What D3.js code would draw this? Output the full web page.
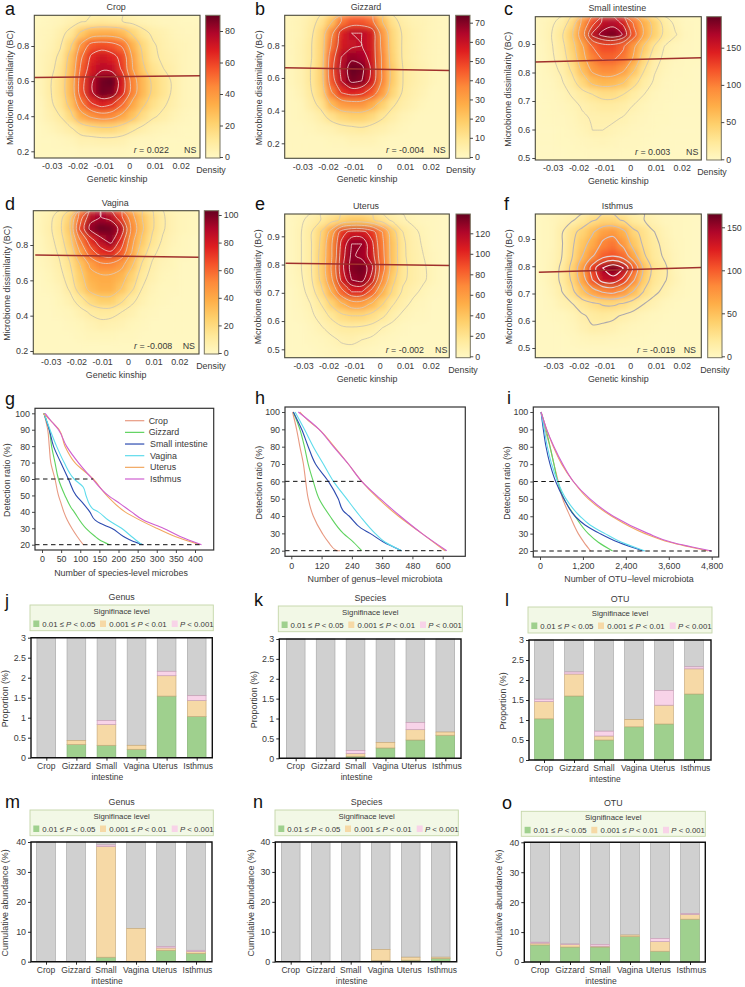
<!DOCTYPE html>
<html><head><meta charset="utf-8">
<script src="https://cdn.jsdelivr.net/npm/d3@7"></script>
<style>
html,body{margin:0;padding:0;background:#fff}
svg{display:block}
text{font-family:"Liberation Sans",Arial,sans-serif;fill:#3a3a3a}
</style></head><body>
<svg id="c" width="745" height="987"></svg>
<script>
// ---------- DATA ----------
const tissues = ["Crop","Gizzard","Small intestine","Vagina","Uterus","Isthmus"];
const tissueLabels = [["Crop"],["Gizzard"],["Small","intestine"],["Vagina"],["Uterus"],["Isthmus"]];
const kinshipTicks = [-0.03,-0.02,-0.01,0,0.01,0.02];
const detectionTicks = [100,90,80,70,60,50,40,30,20];

const densityCrop = [
[1,2,3,5,8,10,11,10,9,6,4,3,2,2,1,1],
[2,3,6,12,24,32,34,34,30,20,12,7,5,3,2,2],
[2,4,8,20,42,56,58,56,50,32,18,10,6,4,3,2],
[3,5,11,26,50,66,72,68,60,38,21,11,7,5,3,2],
[3,6,13,28,54,70,76,74,62,40,24,14,9,6,3,2],
[3,8,15,30,58,76,88,90,70,46,30,19,13,7,3,2],
[3,8,15,30,58,76,88,86,68,46,30,19,13,7,3,2],
[2,7,13,26,48,62,68,64,52,36,24,15,10,6,3,2],
[2,5,9,18,34,42,46,44,36,26,16,10,7,4,2,1],
[1,3,5,8,14,18,20,20,16,11,7,4,3,2,1,1],
[1,1,2,3,5,5,6,6,5,3,2,2,1,1,1,1],
[1,1,1,1,2,2,2,2,2,1,1,1,1,1,1,1]];
const densityGizzard = [
[2,3,6,11,22,40,46,46,42,24,12,6,4,3,2,1],
[2,3,7,15,36,56,62,62,58,34,15,8,5,3,2,1],
[2,4,8,16,40,58,60,62,58,36,16,8,5,3,2,1],
[2,4,8,16,46,62,68,66,58,38,17,8,5,3,2,1],
[2,4,9,17,48,64,74,72,60,38,19,9,6,4,2,1],
[2,4,9,17,46,62,72,70,58,38,19,9,6,4,2,1],
[1,3,8,15,38,52,56,54,46,32,16,8,5,3,1,1],
[1,2,6,11,24,32,34,34,28,18,10,6,4,2,1,1],
[1,2,3,6,12,16,18,18,15,10,6,3,2,1,1,1],
[1,1,2,3,4,6,7,8,6,5,3,2,1,1,1,1],
[1,1,1,1,2,2,3,3,3,2,1,1,1,1,1,1],
[1,1,1,1,1,1,1,1,1,1,1,1,1,1,1,1]];
const densitySmall = [
[4,8,16,36,85,125,160,165,150,105,70,45,18,8,3,2],
[4,10,24,50,95,160,178,185,170,120,75,45,22,12,4,2],
[3,9,20,44,76,110,124,124,112,84,52,26,10,5,3,2],
[3,8,17,38,70,98,112,112,104,76,40,16,8,4,2,2],
[2,6,13,30,58,84,94,94,82,56,28,12,6,3,2,1],
[2,4,9,20,40,60,66,64,56,34,18,9,4,2,2,1],
[1,3,6,12,20,28,34,34,28,18,11,5,3,2,1,1],
[1,2,4,7,12,16,19,19,16,10,6,3,2,1,1,1],
[1,2,3,5,9,12,13,13,10,6,4,2,2,1,1,1],
[1,1,2,4,7,11,11,8,6,4,3,2,1,1,1,1],
[1,1,2,2,4,5,6,5,3,3,2,1,1,1,1,1],
[1,1,1,2,2,3,3,3,2,2,1,1,1,1,1,1]];
const densityVagina = [
[3,6,13,24,60,88,92,88,70,46,30,18,10,5,3,2],
[3,7,14,28,70,95,102,100,88,52,32,18,10,5,3,2],
[2,6,12,24,54,74,88,96,76,46,28,15,8,4,2,1],
[2,5,10,20,42,62,74,78,64,42,22,11,6,3,2,1],
[2,4,8,16,30,44,52,52,46,32,16,8,4,3,1,1],
[1,3,6,13,26,38,40,40,36,24,12,6,3,2,1,1],
[1,2,4,10,22,34,38,38,30,19,9,4,2,2,1,1],
[1,1,3,6,13,21,26,26,19,11,6,3,2,1,1,1],
[1,1,2,3,6,10,12,12,9,6,3,2,1,1,1,1],
[1,1,1,2,3,5,7,6,5,3,2,1,1,1,1,1],
[1,1,1,1,2,3,3,3,2,2,1,1,1,1,1,1],
[1,1,1,1,1,1,1,1,1,1,1,1,1,1,1,1]];
const densityUterus = [
[2,5,10,16,24,32,38,38,32,22,13,8,5,3,2,1],
[2,6,14,30,56,98,110,110,98,70,36,16,9,5,2,1],
[2,6,14,32,66,108,128,128,108,74,40,18,10,6,2,1],
[2,6,14,34,66,112,130,125,112,76,40,18,11,7,3,1],
[2,6,14,34,70,114,132,136,120,78,40,19,12,8,4,1],
[2,5,13,32,64,108,128,132,112,68,34,18,12,8,4,1],
[1,4,10,24,50,82,105,105,82,50,27,14,9,5,2,1],
[1,3,7,16,32,47,60,60,47,31,17,10,5,3,1,1],
[1,2,5,10,18,26,30,30,24,18,10,5,3,2,1,1],
[1,1,3,6,10,14,15,14,12,7,4,2,1,1,1,1],
[1,1,2,3,5,8,9,7,5,3,2,1,1,1,1,1],
[1,1,1,2,3,4,4,3,2,1,1,1,1,1,1,1]];
const densityIsthmus = [
[2,4,8,12,20,30,36,36,30,18,14,8,4,3,2,1],
[2,4,12,26,38,52,70,74,60,36,26,14,7,3,2,1],
[2,4,12,28,46,64,84,90,74,46,28,18,9,4,2,1],
[2,5,13,30,54,78,98,104,94,64,34,19,12,5,2,1],
[2,6,16,36,70,115,145,160,145,100,48,24,16,6,2,1],
[2,7,16,34,66,105,135,138,118,82,42,22,15,7,2,1],
[1,5,13,26,48,68,82,86,74,52,30,17,10,4,2,1],
[1,3,8,13,22,28,34,35,30,22,14,8,4,2,1,1],
[1,2,3,6,12,17,19,17,12,8,5,3,2,1,1,1],
[1,1,2,4,8,13,11,9,6,4,3,2,1,1,1,1],
[1,1,1,2,4,5,5,4,3,2,2,1,1,1,1,1],
[1,1,1,1,1,1,1,1,1,1,1,1,1,1,1,1]];

const levelsCrop = [9,22,40,52,64,78];
const levelsGizzard = [9,24,40,52,62,70];
const levelsSmall = [11,28,55,80,110,135,155,172];
const levelsVagina = [9,17,30,42,55,68,80,92];
const levelsUterus = [7,16,30,50,70,90,105,118,128];
const levelsIsthmus = [14,32,55,80,105,125,145];

const regCrop = [[-0.0368,0.62],[0.0275,0.63]];
const regGizzard = [[-0.0368,0.663],[0.0275,0.645]];
const regSmall = [[-0.0368,0.837],[0.0275,0.852]];
const regVagina = [[-0.036,0.743],[0.0275,0.73]];
const regUterus = [[-0.0368,0.805],[0.0275,0.797]];
const regIsthmus = [[-0.0355,0.778],[0.0275,0.795]];

// species-level [count, ratio]
const speciesCrop = [[5,100],[15,90],[19,80],[23,70],[34,60],[43,50],[50,45],[57,40],[66,35],[78,30],[92,25],[108,20]];
const speciesGizzard = [[5,100],[19,90],[25,80],[34,70],[43,60],[60,50],[75,43],[84,40],[115,30],[139,25],[150,23],[176,20]];
const speciesSmall = [[5,100],[19,90],[30,80],[49,70],[69,60],[89,50],[108,45],[125,40],[139,35],[152,33],[182,30],[213,25],[239,22],[265,20]];
const speciesVagina = [[5,100],[21,90],[38,80],[58,70],[84,60],[108,55],[115,50],[132,42],[147,40],[173,35],[208,30],[234,25],[261,20]];
const speciesUterus = [[3,100],[25,95],[45,90],[60,80],[86,70],[134,60],[169,50],[217,40],[300,30],[348,25],[413,20]];
const speciesIsthmus = [[8,100],[25,95],[43,90],[64,80],[95,70],[132,60],[173,50],[204,45],[234,40],[265,35],[317,30],[361,25],[417,20]];
// genus-level
const genusCrop = [[5,100],[21,90],[34,80],[48,70],[57,60],[67,50],[87,40],[123,30],[147,25],[180,20],[193,20]];
const genusGizzard = [[8,100],[34,90],[52,80],[67,70],[87,60],[110,50],[153,40],[206,30],[246,25],[279,20]];
const genusSmall = [[8,100],[41,90],[67,80],[96,70],[147,60],[186,50],[206,43],[229,40],[276,33],[312,30],[365,25],[437,20]];
const genusVagina = [[15,100],[52,90],[87,80],[127,70],[167,60],[219,50],[272,40],[332,30],[371,25],[437,20]];
const genusUterus = [[34,100],[67,95],[110,90],[170,80],[226,70],[279,60],[345,50],[424,40],[517,30],[609,20]];
const genusIsthmus = [[28,100],[110,90],[167,80],[226,70],[279,60],[352,50],[431,40],[517,30],[616,20]];
// OTU-level
const otuCrop = [[30,100],[140,90],[280,80],[390,70],[510,60],[634,50],[840,40],[1070,30],[1230,25],[1416,20]];
const otuGizzard = [[30,100],[170,90],[280,80],[390,70],[494,60],[670,50],[980,40],[1350,30],[1630,25],[2030,20]];
const otuSmall = [[30,100],[93,90],[168,80],[280,70],[438,60],[670,50],[980,40],[1258,35],[1678,30],[2190,25],[2890,20]];
const otuVagina = [[30,100],[120,90],[205,80],[326,70],[494,60],[727,50],[1118,40],[1398,35],[1817,30],[2283,25],[2936,20]];
const otuUterus = [[30,100],[186,90],[373,80],[606,70],[932,60],[1351,50],[2004,40],[2936,30],[3635,25],[4706,20]];
const otuIsthmus = [[30,100],[186,90],[391,80],[634,70],[932,60],[1398,50],[2050,40],[3029,30],[3681,25],[4800,20]];

const sigLabels = [["0.01 ≤ ","P"," < 0.05"],["0.001 ≤ ","P"," < 0.01"],["","P"," < 0.001"]];
// [0.01<=P<0.05, 0.001<=P<0.01, P<0.001] per tissue
const propGenus = [[0,0,0],[0.33,0.10,0],[0.31,0.52,0.10],[0.21,0.10,0],[1.54,0.51,0.11],[1.03,0.40,0.12]];
const propSpecies = [[0,0,0],[0,0,0],[0.05,0.07,0.08],[0.26,0.14,0],[0.46,0.26,0.18],[0.58,0.08,0]];
const propOtu = [[1.03,0.43,0.06],[1.6,0.55,0.05],[0.5,0.1,0.12],[0.83,0.18,0],[0.9,0.47,0.37],[1.65,0.63,0.05]];
const abunGenus = [[0,0,0],[0,0,0],[1.5,37,0.5],[0.1,11,0],[3.8,0.8,0.5],[2.8,0.6,0.4]];
const abunSpecies = [[0,0,0],[0,0,0],[0.1,0,0],[0.4,3.7,0],[0.5,1,0],[1.1,0.4,0]];
const abunOtu = [[5.7,0.6,0.3],[5,0.8,0.2],[5,0.3,0.6],[8.5,0.5,0],[3.6,3.2,1.1],[14.3,1.6,0.3]];

// ---------- STYLE ----------
const heatStops = ["#fff8c4","#ffe99a","#fed06c","#feae48","#fd8a3a","#f5542a","#de1e20","#b0062a","#660020"];
const lineColors = ["#e89a82","#5fd35f","#2c4bb0","#5fdcec","#f2a860","#cf5fd0"];
const sigColors = ["#9fd08e","#f6d9a6","#f8d3e8"];
const sigEdges = ["#86b276","#c8ab7c","#c8a0b8"];
const FS = 8.9;

const svg = d3.select("#c");
const defs = svg.append("defs");
defs.append("filter").attr("id","blur").attr("x",0).attr("y",0).attr("width",1).attr("height",1)
  .append("feGaussianBlur").attr("stdDeviation",3).attr("edgeMode","duplicate");

function txt(x,y,s,o={}){
  const t = svg.append("text").attr("x",x).attr("y",y).text(s)
    .attr("font-size",o.size||FS).attr("text-anchor",o.anchor||"middle");
  if(o.rot) t.attr("transform",`rotate(${o.rot} ${x} ${y})`);
  if(o.fill) t.style("fill",o.fill);
  return t;
}
function letter(s,x,y){ txt(x,y,s,{size:18,anchor:"start",fill:"#111"}); }
function styleAxis(g,stroke="#333"){
  g.selectAll("path.domain").remove();
  g.selectAll("line").attr("stroke",stroke).attr("stroke-width",0.9);
  g.selectAll("text").attr("font-size",FS).style("fill","#3a3a3a");
}

let clipId = 0;
function heat(p){
  const [L,R,T,B] = p.box;
  const x = d3.scaleLinear().domain([-0.03,0.02]).range(p.xAt);
  const y = d3.scaleLinear().domain(p.yDom).range(p.yAt);
  const rows = p.grid.length, cols = p.grid[0].length;
  const color = d3.scaleLinear().domain(heatStops.map((_,i)=>i/(heatStops.length-1)*p.max)).range(heatStops);
  const xb = d3.scaleBand().domain(d3.range(cols)).range([L,R]);
  const yb = d3.scaleBand().domain(d3.range(rows)).range([T,B]);
  const id = "clip"+(clipId++);
  defs.append("clipPath").attr("id",id).append("rect").attr("x",L).attr("y",T).attr("width",R-L).attr("height",B-T);
  const root = svg.append("g").attr("clip-path",`url(#${id})`);
  root.append("rect").attr("x",L).attr("y",T).attr("width",R-L).attr("height",B-T).attr("fill",color(1));
  const cells = root.append("g").attr("filter","url(#blur)");
  p.grid.forEach((row,r)=>row.forEach((v,c)=>{
    cells.append("rect").attr("x",xb(c)).attr("y",yb(r)).attr("width",xb.bandwidth()+0.5).attr("height",yb.bandwidth()+0.5).attr("fill",color(v));
  }));
  // contours
  const cs = d3.contours().size([cols,rows]).thresholds(p.levels)(p.grid.flat());
  const gx = d3.scaleLinear().domain([0,cols]).range([L,R]);
  const gy = d3.scaleLinear().domain([0,rows]).range([T,B]);
  const line = d3.line().x(d=>gx(d[0])).y(d=>gy(d[1])).curve(d3.curveCatmullRomClosed.alpha(0.5));
  const stroke = d3.scaleLinear().domain([0,p.levels.length-1]).range(p.heavy?["#aeaaac","#fbe8e8"]:["#c6c2b0","#f9dcd8"]);
  cs.forEach((c,i)=>{
    c.coordinates.forEach(poly=>poly.forEach(ring=>{
      root.append("path").attr("d",line(ring.slice(0,-1))).attr("fill","none")
        .attr("stroke",stroke(i)).attr("stroke-width",p.heavy?1.1:0.8);
    }));
  });
  // regression
  root.append("line").attr("x1",x(p.reg[0][0])).attr("y1",y(p.reg[0][1])).attr("x2",x(p.reg[1][0])).attr("y2",y(p.reg[1][1]))
    .attr("stroke","#a0302c").attr("stroke-width",1.5);
  svg.append("rect").attr("x",L).attr("y",T).attr("width",R-L).attr("height",B-T).attr("fill","none").attr("stroke","#4b4a3c").attr("stroke-width",1.1);
  const gxA = svg.append("g").attr("transform",`translate(0,${B})`)
    .call(d3.axisBottom(x).tickValues(kinshipTicks).tickSize(0).tickPadding(5).tickFormat(d=>d===0?"0":d3.format(".2f")(d).replace("−","-")));
  styleAxis(gxA);
  const gyA = svg.append("g").attr("transform",`translate(${L},0)`)
    .call(d3.axisLeft(y).tickValues(p.yTicks).tickSize(3).tickPadding(2).tickFormat(d3.format(".1f")));
  styleAxis(gyA);
  txt((L+R)/2,B+24,"Genetic kinship");
  txt(p.yTitleX,(T+B)/2+1,"Microbiome dissimilarity (BC)",{rot:-90});
  txt((L+R)/2-1,T+p.titleDy,p.title);
  const r = txt(p.rX,B-5,"",{anchor:"start"});
  r.append("tspan").style("font-style","italic").text("r");
  r.append("tspan").text(" = "+p.r);
  txt(p.nsX,B-5,"NS",{anchor:"start"});
  // colour bar
  const [cl,cr] = p.cb;
  const gid = "grad"+(clipId);
  const gr = defs.append("linearGradient").attr("id",gid).attr("x1",0).attr("x2",0).attr("y1",1).attr("y2",0);
  heatStops.forEach((s,i)=>gr.append("stop").attr("offset",i/(heatStops.length-1)).attr("stop-color",s));
  svg.append("rect").attr("x",cl).attr("y",T).attr("width",cr-cl).attr("height",B-T).attr("fill",`url(#${gid})`)
    .attr("stroke","#77735f").attr("stroke-width",1);
  const cy = d3.scaleLinear().domain([0,p.cbTicks[p.cbTicks.length-1]]).range(p.cbAt);
  const gc = svg.append("g").attr("transform",`translate(${cr},0)`)
    .call(d3.axisRight(cy).tickValues(p.cbTicks).tickSize(3).tickPadding(2));
  styleAxis(gc);
  txt(p.densX,B+15,"Density");
  letter(p.letter,p.lx,p.ly);
}

heat({letter:"a",lx:5,ly:14.5,title:"Crop",titleDy:-5,grid:densityCrop,levels:levelsCrop,max:90,reg:regCrop,r:"0.022",
  box:[34.3,200,15.3,158],xAt:[51.7,180.7],yDom:[0.2,0.8],yAt:[151.3,46],yTicks:[0.2,0.4,0.6,0.8],yTitleX:13,
  rX:133.7,nsX:184,cb:[205.7,220],cbTicks:[0,20,40,60,80],cbAt:[157,31],densX:211});
heat({letter:"b",lx:255,ly:14.5,title:"Gizzard",titleDy:-5,grid:densityGizzard,levels:levelsGizzard,max:74,reg:regGizzard,r:"-0.004",
  box:[284.7,449.3,15.3,158.3],xAt:[302.3,430.7],yDom:[0.2,0.8],yAt:[143.3,45.3],yTicks:[0.2,0.4,0.6,0.8],yTitleX:262,
  rX:386,nsX:433.3,cb:[455.7,470],cbTicks:[0,10,20,30,40,50,60,70],cbAt:[157,22.7],densX:460.7});
heat({letter:"c",lx:504,ly:14.5,title:"Small intestine",titleDy:-6,grid:densitySmall,levels:levelsSmall,max:191,reg:regSmall,r:"0.003",
  box:[535.3,701.3,16.7,160],xAt:[552.7,681.7],yDom:[0.5,0.9],yAt:[158,44],yTicks:[0.5,0.6,0.7,0.8,0.9],yTitleX:511,
  rX:635,nsX:686,cb:[706.7,721.3],cbTicks:[0,50,100,150],cbAt:[159.3,47.7],densX:712});
heat({letter:"d",lx:5,ly:210,title:"Vagina",titleDy:-5,grid:densityVagina,levels:levelsVagina,max:103,reg:regVagina,r:"-0.008",
  box:[33.3,199,210.7,354],xAt:[50.7,179.3],yDom:[0.2,0.8],yAt:[351,245],yTicks:[0.2,0.4,0.6,0.8],yTitleX:10,
  rX:134,nsX:182.7,cb:[204.3,218.7],cbTicks:[0,20,40,60,80,100],cbAt:[353,215],densX:211});
heat({letter:"e",lx:255,ly:210,title:"Uterus",titleDy:-5,grid:densityUterus,levels:levelsUterus,max:139,reg:regUterus,r:"-0.002",
  box:[284.7,449.3,214,357.7],xAt:[303,430.7],yDom:[0.5,0.9],yAt:[349.3,236.3],yTicks:[0.5,0.6,0.7,0.8,0.9],yTitleX:261,
  rX:385.7,nsX:435,cb:[456,470.3],cbTicks:[0,20,40,60,80,100,120],cbAt:[356.3,233.3],densX:463});
heat({letter:"f",lx:504,ly:210,title:"Isthmus",titleDy:-5,heavy:true,grid:densityIsthmus,levels:levelsIsthmus,max:165,reg:regIsthmus,r:"-0.019",
  box:[535.3,701.3,214,357.7],xAt:[553,681.7],yDom:[0.5,0.9],yAt:[348,239],yTicks:[0.5,0.6,0.7,0.8,0.9],yTitleX:512,
  rX:637,nsX:683.7,cb:[707.7,722],cbTicks:[0,50,100,150],cbAt:[356.3,227.3],densX:715});

function curves(p){
  const [L,R,T,B] = p.box;
  const x = d3.scaleLinear().domain([0,p.xTicks[p.xTicks.length-1]]).range(p.xAt);
  const y = d3.scaleLinear().domain([20,100]).range(p.yAt);
  const line = d3.line().x(d=>x(d[0])).y(d=>y(d[1])).curve(d3.curveMonotoneY);
  p.series.forEach((s,i)=>{
    svg.append("path").datum(s).attr("d",line).attr("fill","none").attr("stroke",lineColors[i]).attr("stroke-width",1.1);
  });
  const dash=(x2,v)=>svg.append("line").attr("x1",L).attr("x2",x(x2)).attr("y1",y(v)).attr("y2",y(v))
    .attr("stroke","#111").attr("stroke-width",1).attr("stroke-dasharray","4.5,3.5");
  dash(p.dash60,60); dash(p.dash20,20);
  svg.append("rect").attr("x",L).attr("y",T).attr("width",R-L).attr("height",B-T).attr("fill","none").attr("stroke","#333").attr("stroke-width",1.2);
  styleAxis(svg.append("g").attr("transform",`translate(0,${B})`)
    .call(d3.axisBottom(x).tickValues(p.xTicks).tickSize(3).tickPadding(3).tickFormat(p.fmt||(d=>d))));
  styleAxis(svg.append("g").attr("transform",`translate(${L},0)`)
    .call(d3.axisLeft(y).tickValues(detectionTicks).tickSize(3).tickPadding(2)));
  txt(p.xtX,p.xtY,p.xTitle);
  txt(p.ytX,(T+B)/2+1,"Detection ratio (%)",{rot:-90});
  letter(p.letter,p.lx,p.ly);
}
curves({letter:"g",lx:5,ly:405,box:[35,213.7,408.3,550],xAt:[42,195],yAt:[544.7,413.3],xTicks:d3.range(0,401,50),
  series:[speciesCrop,speciesGizzard,speciesSmall,speciesVagina,speciesUterus,speciesIsthmus],dash60:134,dash20:420,
  xTitle:"Number of species-level microbes",xtX:121,xtY:576,ytX:10.5});
curves({letter:"h",lx:255,ly:404,box:[285,465.3,407,556.3],xAt:[291.3,442.7],yAt:[550.7,412],xTicks:d3.range(0,601,120),
  series:[genusCrop,genusGizzard,genusSmall,genusVagina,genusUterus,genusIsthmus],dash60:279,dash20:610,
  xTitle:"Number of  genus−level microbiota",xtX:375,xtY:582,ytX:262.5});
curves({letter:"i",lx:507,ly:404,box:[533.3,718.7,407,557],xAt:[540,711.7],yAt:[551,412],xTicks:d3.range(0,4801,1200),fmt:d3.format(","),
  series:[otuCrop,otuGizzard,otuSmall,otuVagina,otuUterus,otuIsthmus],dash60:932,dash20:4800,
  xTitle:"Number of  OTU−level microbiota",xtX:629,xtY:582,ytX:510});

// legend of g
const legY = d3.scalePoint().domain(tissues).range([420.7,479]);
tissues.forEach((t,i)=>{
  svg.append("line").attr("x1",125).attr("x2",144.3).attr("y1",legY(t)).attr("y2",legY(t)).attr("stroke",lineColors[i]).attr("stroke-width",1.2);
  txt(i<2?148.7:150,legY(t)+3,t,{anchor:"start"});
});

function bars(p){
  const [L,R,T,B] = p.box;
  const x = d3.scalePoint().domain(tissues).range(p.cx);
  const y = d3.scaleLinear().domain([0,p.max]).range([B,T]);
  const bw = 18.7;
  tissues.forEach((t,i)=>{
    const v = p.data[i]; let acc = 0;
    const total = d3.sum(v);
    svg.append("rect").attr("x",x(t)-bw/2).attr("width",bw).attr("y",y(p.max)).attr("height",y(total)-y(p.max))
      .attr("fill","#d0d0d0").attr("stroke","#aaaaaa").attr("stroke-width",0.7);
    v.forEach((d,k)=>{
      if(d<=0) return;
      svg.append("rect").attr("x",x(t)-bw/2).attr("width",bw).attr("y",y(acc+d)).attr("height",y(acc)-y(acc+d))
        .attr("fill",sigColors[k]).attr("stroke",sigEdges[k]).attr("stroke-width",0.7);
      acc += d;
    });
  });
  svg.append("path").attr("d",`M${L},${T}H${R}V${B}H${L}Z`).attr("fill","none").attr("stroke","#111").attr("stroke-width",1.4);
  const gx = svg.append("g").attr("transform",`translate(0,${B})`)
    .call(d3.axisBottom(x).tickSize(3).tickFormat(""));
  styleAxis(gx,"#111");
  const gy = svg.append("g").attr("transform",`translate(${L},0)`)
    .call(d3.axisLeft(y).tickValues(p.ticks).tickSize(3).tickPadding(2).tickFormat(d=>d));
  styleAxis(gy,"#111");
  const off=[0,0,0,0,-1.5,1.5];
  tissues.forEach((t,i)=>tissueLabels[i].forEach((s,j)=>txt(x(t)+off[i]+(j?1:0),B+11+j*11,s,{size:8.5})));
  txt(p.ytX,(T+B)/2+1,p.yTitle,{rot:-90});
  // legend box
  const [a,b,c,e] = p.leg;
  svg.append("rect").attr("x",a).attr("y",c).attr("width",b-a).attr("height",e-c).attr("fill","#f2f8e6").attr("stroke","#c4d6a8").attr("stroke-width",0.9);
  txt((a+b)/2,c+9,"Signifinace level",{size:7.8});
  const sq = [3.3,70,141.7], tx=[12.3,79.3,150];
  sigLabels.forEach((lab,k)=>{
    svg.append("rect").attr("x",a+sq[k]).attr("y",c+15.5).attr("width",6).attr("height",6.5).attr("fill",sigColors[k]);
    const tt = txt(a+tx[k],c+21.5,"",{anchor:"start",size:7.8});
    tt.append("tspan").text(lab[0]);
    tt.append("tspan").style("font-style","italic").text(lab[1]);
    tt.append("tspan").text(lab[2]);
  });
  txt((a+b)/2,c-5,p.title);
  letter(p.letter,p.lx,p.ly);
}
const propTicks=[0,0.5,1,1.5,2,2.5,3], abunTicks=[0,10,20,30,40];
bars({letter:"j",lx:5,ly:607,title:"Genus",data:propGenus,max:3,ticks:propTicks,yTitle:"Proportion (%)",ytX:8,
  box:[31,212.3,637.7,757.7],cx:[46.3,196.7],leg:[30,213.3,605,630.7]});
bars({letter:"k",lx:254,ly:606,title:"Species",data:propSpecies,max:3,ticks:propTicks,yTitle:"Proportion (%)",ytX:257,
  box:[279.3,461,639,758.3],cx:[295.7,445.3],leg:[278.3,462.3,606,631.7]});
bars({letter:"l",lx:505,ly:606,title:"OTU",data:propOtu,max:3,ticks:propTicks,yTitle:"Proportion (%)",ytX:506,
  box:[529,711,640,760],cx:[544,694],leg:[528,712,607,633]});
bars({letter:"m",lx:5,ly:808,title:"Genus",data:abunGenus,max:40,ticks:abunTicks,yTitle:"Cumulative abundance (%)",ytX:8,
  box:[31,212,842,961.7],cx:[46,196],leg:[30,213.3,810,835.7]});
bars({letter:"n",lx:253,ly:808,title:"Species",data:abunSpecies,max:40,ticks:abunTicks,yTitle:"Cumulative abundance (%)",ytX:254,
  box:[275.3,456.7,842,961.7],cx:[290.7,440.7],leg:[275,458.3,810,835.7]});
bars({letter:"o",lx:502,ly:809,title:"OTU",data:abunOtu,max:40,ticks:abunTicks,yTitle:"Cumulative abundance (%)",ytX:502,
  box:[524.3,705.3,842.3,962],cx:[540,690],leg:[521.3,705.3,811.3,836.3]});
</script>
</body></html>
